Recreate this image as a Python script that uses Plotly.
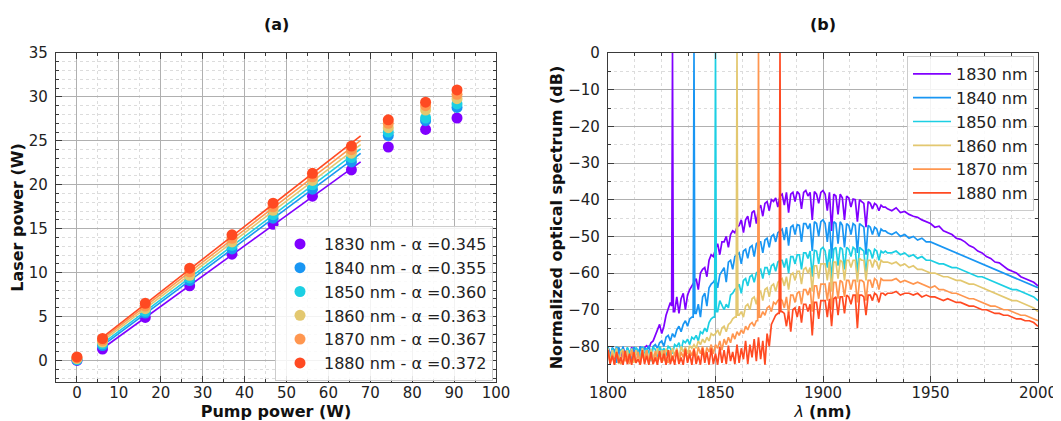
import numpy as np
import plotly.graph_objects as go

# ---------------- Panel (a) data ----------------
pump_power = [0.0, 6.1, 16.3, 26.9, 37.0, 46.8, 56.2, 65.5, 74.3, 83.2, 90.7]
wavelengths = [1830, 1840, 1850, 1860, 1870, 1880]
alphas = [0.345, 0.355, 0.360, 0.363, 0.367, 0.372]
laser_1830 = [0.0, 1.3, 4.9, 8.5, 12.1, 15.5, 18.7, 21.7, 24.3, 26.3, 27.6]
laser_1840 = [0.05, 1.7, 5.4, 9.1, 12.7, 16.2, 19.5, 22.6, 25.6, 27.3, 28.8]
laser_1850 = [0.1, 1.9, 5.6, 9.4, 13.1, 16.6, 20.0, 23.1, 26.0, 27.6, 29.2]
laser_1860 = [0.2, 2.1, 5.9, 9.7, 13.5, 17.1, 20.5, 23.6, 26.5, 28.5, 29.8]
laser_1870 = [0.3, 2.3, 6.2, 10.1, 13.9, 17.5, 20.9, 24.0, 27.0, 29.0, 30.3]
laser_1880 = [0.4, 2.5, 6.5, 10.5, 14.3, 17.9, 21.3, 24.4, 27.4, 29.4, 30.8]
fit_first_index = 1   # first pump point used in the linear fit
fit_last_index = 7    # last pump point used in the linear fit
fit_end_pump = 67.7   # fit line drawn up to this pump power (W)

colors = ["#8000ff", "#1996f3", "#1ccfe3", "#e3c870", "#ff964f", "#ff4a22"]

# ---------------- Panel (b) data ----------------
# wavelength grid (nm): 1 nm steps up to 1930, 2 nm steps after
lam = list(range(1800, 1931)) + list(range(1932, 2001, 2))

spec_1830 = [
    -80.3, -82.5, -80.8, -84.0, -80.2, -81.5, -83.5, -80.4, -82.0, -80.6,
    -83.8, -80.2, -81.8, -80.5, -82.5, -80.0, -81.2, -80.3, -79.8, -80.5,
    -79.0, -78.5, -77.0, -75.5, -74.0, -76.5, -74.5, -71.5, -70.0, -68.0,
    0.0, -70.5, -66.5, -71.0, -67.0, -65.5, -70.0, -66.0, -64.5, -63.5,
    -62.5, -61.5, -64.5, -60.0, -59.0, -58.5, -61.0, -56.5, -55.0, -55.5,
    -53.5, -52.0, -55.0, -51.5, -51.5, -50.0, -53.0, -49.5, -48.5, -49.0,
    -47.5, -47.0, -45.5, -49.0, -45.5, -44.5, -47.5, -43.5, -43.0, -46.5,
    -42.5, -41.5, -44.5, -41.0, -40.5, -43.0, -40.0, -40.5, -39.5, -42.0,
    -39.0, -38.5, -41.5, -38.0, -43.5, -38.5, -38.0, -40.5, -37.8, -38.5,
    -42.5, -38.0, -37.5, -39.0, -38.0, -45.5, -37.8, -38.5, -41.0, -38.0,
    -37.5, -38.5, -43.0, -38.0, -48.5, -38.5, -39.0, -44.0, -38.5, -39.5,
    -45.5, -39.0, -39.5, -42.0, -39.8, -40.0, -46.0, -40.0, -40.5, -41.0,
    -47.5, -40.5, -41.0, -42.5, -41.0, -41.5, -43.0, -41.5, -42.0, -42.0,
    -42.5,
    -43.0, -42.2, -43.5, -43.2, -44.0, -44.5, -44.8, -45.5, -46.0, -46.5,
    -47.5, -47.2, -48.5, -49.0, -49.5, -50.5, -50.8, -51.5, -52.5, -53.0,
    -54.0, -54.5, -55.5, -56.0, -57.0, -57.2, -58.0, -59.0, -59.5, -60.0,
    -61.0, -61.5, -62.0, -62.5, -63.5]
spec_1840 = [
    -80.0, -83.5, -80.3, -81.0, -84.5, -80.2, -82.0, -80.0, -83.0, -80.5,
    -81.5, -84.0, -80.2, -80.8, -83.0, -80.0, -82.5, -80.3, -81.0, -79.8,
    -82.0, -80.0, -79.5, -80.5, -79.0, -78.5, -80.0, -77.5, -77.0, -78.5,
    -76.5, -77.5, -75.5, -74.5, -76.0, -74.0, -73.0, -74.5, -72.5, -72.0,
    0.0, -71.0, -68.5, -72.0, -66.5, -65.5, -69.0, -64.0, -63.0, -62.5,
    -61.5, -64.0, -60.5, -59.5, -58.5, -62.5, -57.0, -56.5, -59.0, -55.5,
    -55.0, -54.5, -57.5, -54.0, -53.5, -56.0, -53.0, -52.5, -55.5, -52.0,
    -51.5, -51.5, -54.5, -51.0, -50.5, -53.0, -50.0, -49.5, -51.5, -49.0,
    -48.5, -48.0, -51.0, -47.5, -52.5, -47.5, -47.0, -49.5, -46.8, -47.0,
    -51.5, -46.5, -46.5, -48.0, -46.5, -54.0, -46.0, -46.5, -50.0, -46.0,
    -45.5, -46.5, -51.5, -46.0, -56.0, -46.0, -46.5, -52.0, -46.0, -47.0,
    -53.0, -46.5, -47.0, -49.5, -46.5, -47.0, -54.5, -46.5, -47.0, -47.5,
    -55.0, -47.0, -47.5, -49.5, -47.5, -48.0, -50.0, -48.0, -48.5, -48.5,
    -49.0,
    -49.5, -48.8, -50.0, -49.5, -50.5, -50.0, -51.0, -50.5, -51.5, -51.5,
    -52.0, -52.5, -53.0, -53.5, -54.0, -54.5, -55.0, -55.5, -56.0, -56.5,
    -57.0, -57.5, -58.0, -58.5, -59.0, -59.5, -60.0, -60.5, -61.0, -61.5,
    -62.0, -62.5, -63.0, -63.5, -64.0]
spec_1850 = [
    -80.2, -84.0, -80.5, -82.5, -80.0, -84.5, -80.8, -81.5, -83.5, -80.2,
    -82.0, -80.5, -84.0, -80.3, -81.0, -83.0, -80.0, -82.5, -80.6, -81.5,
    -84.0, -80.2, -80.8, -83.0, -80.0, -81.5, -80.5, -82.5, -80.0, -80.5,
    -82.0, -79.5, -80.0, -79.0, -81.0, -78.5, -79.0, -78.0, -79.5, -77.5,
    -78.0, -77.0, -78.5, -76.0, -76.5, -75.0, -76.0, -73.5, -72.5, -72.0,
    0.0, -70.5, -67.5, -69.0, -70.0, -68.5, -69.5, -66.0, -65.5, -64.5,
    -64.0, -63.0, -65.5, -62.0, -61.5, -63.5, -61.0, -60.5, -62.5, -60.0,
    -59.5, -59.0, -61.5, -58.5, -58.5, -60.5, -58.0, -57.5, -59.5, -57.0,
    -56.5, -56.5, -58.5, -56.0, -60.0, -55.5, -55.5, -57.5, -55.0, -55.0,
    -59.0, -54.5, -54.5, -56.0, -54.0, -61.0, -53.8, -54.0, -57.5, -53.5,
    -53.0, -54.0, -58.5, -53.5, -62.0, -53.5, -53.0, -58.0, -53.0, -53.5,
    -59.0, -53.0, -53.5, -55.5, -53.0, -53.5, -60.0, -53.0, -53.5, -54.0,
    -60.5, -53.5, -54.0, -56.0, -53.5, -54.0, -56.5, -54.0, -54.5, -54.0,
    -54.5,
    -54.5, -54.0, -55.0, -54.5, -55.5, -55.0, -56.0, -55.5, -56.5, -56.5,
    -57.0, -57.5, -57.5, -58.0, -58.5, -58.5, -59.0, -59.5, -60.0, -60.5,
    -61.0, -61.0, -61.5, -62.0, -62.5, -63.0, -63.5, -64.0, -64.5, -64.5,
    -65.0, -65.5, -66.0, -66.5, -67.5]
spec_1860 = [
    -80.5, -84.5, -81.0, -83.0, -80.5, -84.8, -81.5, -80.8, -84.0, -81.0,
    -83.5, -80.6, -84.5, -81.0, -82.5, -84.0, -80.5, -83.0, -81.0, -84.5,
    -80.8, -82.5, -84.0, -80.5, -83.5, -81.0, -84.0, -80.6, -82.0, -83.5,
    -80.4, -82.5, -80.5, -83.0, -80.0, -81.5, -80.2, -82.0, -79.8, -80.5,
    -79.5, -80.5, -78.5, -79.5, -78.0, -79.0, -77.5, -78.5, -76.5, -77.0,
    -76.5, -75.5, -77.0, -75.0, -74.5, -76.0, -74.0, -73.5, -72.5, -72.0,
    0.0, -71.5, -70.5, -72.0, -69.0, -68.5, -70.0, -67.0, -66.5, -68.5,
    -65.5, -65.0, -67.5, -64.5, -64.0, -66.5, -63.5, -63.0, -65.0, -62.5,
    -62.0, -61.5, -63.5, -61.0, -64.5, -60.5, -60.0, -62.0, -59.5, -59.5,
    -63.0, -59.0, -58.5, -60.0, -58.5, -65.0, -58.0, -58.0, -61.5, -57.5,
    -57.5, -57.5, -62.0, -57.0, -65.0, -57.0, -57.0, -61.5, -56.5, -57.0,
    -62.0, -56.5, -56.5, -58.5, -56.5, -56.5, -62.5, -56.0, -56.5, -56.5,
    -62.0, -56.5, -56.5, -58.5, -56.5, -57.0, -59.0, -56.5, -57.0, -57.0,
    -57.0,
    -57.5, -57.0, -58.0, -57.5, -58.5, -58.0, -59.0, -59.0, -59.5, -60.0,
    -60.0, -60.5, -61.0, -61.0, -61.5, -62.0, -62.0, -62.5, -63.0, -63.0,
    -63.5, -64.0, -64.5, -65.0, -65.5, -66.0, -66.5, -67.0, -67.5, -67.5,
    -68.0, -68.5, -69.0, -69.5, -70.5]
spec_1870 = [
    -81.0, -84.5, -82.0, -84.8, -81.5, -83.5, -84.8, -81.2, -84.0, -82.5,
    -84.8, -81.0, -83.5, -84.5, -81.5, -84.8, -82.0, -84.0, -81.0, -84.5,
    -82.5, -84.8, -81.2, -84.0, -82.0, -84.5, -81.0, -83.5, -84.5, -81.0,
    -84.0, -82.0, -80.8, -84.5, -81.5, -83.0, -80.5, -84.0, -81.0, -82.5,
    -80.5, -83.5, -80.2, -82.0, -80.0, -83.0, -80.3, -81.5, -79.5, -82.0,
    -79.5, -80.5, -78.5, -81.0, -78.0, -79.5, -77.5, -79.0, -76.5, -78.0,
    -76.0, -77.0, -75.5, -76.5, -74.5, -75.5, -74.0, -73.5, -74.5, -73.0,
    0.0, -72.0, -70.5, -71.5, -69.5, -69.0, -70.5, -68.0, -68.5, -67.5,
    -67.0, -67.5, -69.5, -66.5, -71.0, -66.0, -66.0, -68.0, -65.5, -65.0,
    -68.5, -64.5, -64.5, -66.0, -64.0, -70.5, -63.5, -63.5, -67.0, -63.0,
    -63.0, -63.0, -67.5, -62.5, -70.0, -62.5, -62.5, -67.0, -62.0, -62.5,
    -66.5, -62.0, -62.0, -64.5, -62.0, -62.0, -68.0, -62.0, -62.0, -62.5,
    -67.5, -62.0, -62.0, -64.0, -61.5, -62.0, -64.5, -61.5, -62.0, -62.0,
    -62.0,
    -62.0, -61.5, -62.5, -62.0, -62.5, -63.0, -62.5, -63.0, -63.5, -64.0,
    -63.5, -64.5, -64.5, -65.0, -65.5, -65.5, -66.0, -66.5, -67.0, -67.0,
    -67.5, -68.0, -68.5, -69.0, -69.0, -69.5, -70.0, -70.0, -70.5, -71.0,
    -71.5, -71.5, -72.0, -72.5, -73.0]
spec_1880 = [
    -81.0, -84.8, -82.5, -85.0, -81.5, -84.5, -83.0, -85.0, -81.2, -84.8,
    -82.0, -85.0, -81.5, -84.5, -83.5, -85.0, -81.0, -84.8, -82.5, -85.0,
    -81.5, -84.8, -83.0, -85.0, -81.2, -84.5, -82.0, -85.0, -81.0, -84.8,
    -82.5, -85.0, -81.0, -84.8, -83.0, -85.0, -80.8, -84.5, -82.0, -85.0,
    -80.8, -84.8, -82.5, -85.0, -80.5, -84.5, -81.5, -85.0, -80.5, -84.8,
    -82.0, -85.0, -80.2, -84.5, -81.0, -84.8, -79.8, -84.0, -81.5, -84.8,
    -79.5, -84.5, -80.5, -83.5, -78.5, -84.8, -79.5, -83.0, -78.0, -84.0,
    -77.5, -83.5, -78.5, -85.0, -76.5, -80.0, -74.0, -72.5, -71.5, -71.0,
    0.0, -70.5, -71.0, -74.5, -70.5, -76.0, -70.0, -69.5, -72.0, -69.0,
    -73.5, -68.5, -68.5, -70.5, -68.5, -77.0, -68.0, -68.0, -72.5, -67.5,
    -67.5, -67.5, -72.0, -67.0, -74.5, -67.0, -66.5, -71.5, -66.5, -66.5,
    -71.0, -66.0, -66.5, -68.5, -66.0, -66.0, -75.0, -66.0, -66.0, -66.5,
    -71.5, -66.0, -66.0, -67.5, -65.5, -66.0, -68.0, -65.5, -65.5, -66.0,
    -65.5,
    -65.5, -65.0, -66.0, -65.5, -65.5, -66.0, -65.5, -66.5, -66.0, -66.5,
    -66.5, -67.0, -67.5, -67.0, -67.5, -68.0, -68.0, -68.5, -69.0, -69.0,
    -69.5, -70.0, -70.0, -70.5, -71.0, -71.0, -71.5, -71.5, -72.0, -72.5,
    -72.5, -73.0, -73.0, -73.5, -74.5]
# narrow laser line: shoulder points just either side of each emission peak
shoulder_wl_offset = 0.4
shoulder_left_db = [-69.0, -72.0, -72.0, -72.0, -73.0, -71.0]
shoulder_right_db = [-70.5, -71.0, -70.5, -71.5, -72.0, -70.5]

laser_series = [laser_1830, laser_1840, laser_1850, laser_1860, laser_1870, laser_1880]
spectra = [spec_1830, spec_1840, spec_1850, spec_1860, spec_1870, spec_1880]
for s in spectra:
    assert len(s) == len(lam), len(s)

FONT = "DejaVu Sans"
OFF = 8                      # page body margin of the html page
W, H = 1061 - OFF, 421 - OFF

def fx(p):  # reference pixel x -> paper fraction
    return (p - OFF) / W

def fy(p):  # reference pixel y -> paper fraction
    return 1 - (p - OFF) / H

fig = go.Figure()

# ----- panel (a) -----
pxa = np.array(pump_power)
for i, (wl, a, ys, c) in enumerate(zip(wavelengths, alphas, laser_series, colors)):
    ys = np.array(ys)
    fig.add_trace(go.Scatter(
        x=pxa, y=ys, mode="markers", name=f"{wl} nm - α ={a:.3f}",
        marker=dict(color=c, size=11, line=dict(width=0)),
        legend="legend", xaxis="x", yaxis="y"))
    sel = slice(fit_first_index, fit_last_index + 1)
    b = float(np.mean(ys[sel] - a * pxa[sel]))
    lx = np.array([pxa[fit_first_index], fit_end_pump])
    fig.add_trace(go.Scatter(
        x=lx, y=a * lx + b, mode="lines", showlegend=False,
        line=dict(color=c, width=1.6), xaxis="x", yaxis="y"))

# ----- panel (b) -----
for i, (wl, sp, c) in enumerate(zip(wavelengths, spectra, colors)):
    xs = list(lam) + [wl - shoulder_wl_offset, wl + shoulder_wl_offset]
    ys = list(sp) + [shoulder_left_db[i], shoulder_right_db[i]]
    order = np.argsort(xs, kind="stable")
    fig.add_trace(go.Scatter(
        x=np.array(xs)[order], y=np.array(ys)[order], mode="lines",
        name=f"{wl} nm", line=dict(color=c, width=1.7),
        legend="legend2", xaxis="x2", yaxis="y2"))

tickfont = dict(family=FONT, size=15, color="#222222")
titlefont = dict(family=FONT, size=16, color="#111111")
axis_common = dict(
    showline=True, linecolor="#3a3a3a", linewidth=1.2, mirror="ticks",
    ticks="inside", ticklen=6, tickcolor="#3a3a3a", tickwidth=1,
    showgrid=True, gridcolor="#b0b0b0", gridwidth=1, zeroline=False,
    tickfont=tickfont, automargin=False,
)

def minor(dt):
    return dict(dtick=dt, ticks="inside", ticklen=3, tickcolor="#3a3a3a",
                showgrid=True, gridcolor="#dcdcdc", griddash="dot", gridwidth=1)

ydom = [fy(382), fy(53)]
xa_dom = [fx(56), fx(496)]
xb_dom = [fx(608), fx(1038)]

legend_common = dict(xanchor="left", yanchor="top", itemwidth=38,
                     bgcolor="rgba(255,255,255,0.85)", bordercolor="#cccccc", borderwidth=1,
                     font=dict(family=FONT, size=16, color="#222222"))

fig.update_layout(
    width=W, height=H, margin=dict(l=0, r=0, t=0, b=0),
    paper_bgcolor="white", plot_bgcolor="white",
    font=dict(family=FONT, size=15, color="#222222"),
    xaxis=dict(domain=xa_dom, anchor="y", range=[-5, 100], tick0=0, dtick=10,
               minor=minor(5), ticklabelstandoff=-3,
               title=dict(text="<b>Pump power (W)</b>", font=titlefont, standoff=3),
               **axis_common),
    yaxis=dict(domain=ydom, anchor="x", range=[-2.45, 35], tick0=0, dtick=5,
               minor=minor(1), ticklabelstandoff=4,
               title=dict(text="<b>Laser power (W)</b>", font=titlefont, standoff=5),
               **axis_common),
    xaxis2=dict(domain=xb_dom, anchor="y2", range=[1800, 2000], tick0=1800, dtick=50,
                minor=minor(12.5), ticklabelstandoff=-3,
                title=dict(text="<i>λ</i> <b>(nm)</b>", font=titlefont, standoff=3),
                **axis_common),
    yaxis2=dict(domain=ydom, anchor="x2", range=[-89.7, 0], tick0=0, dtick=10,
                minor=minor(5), ticklabelstandoff=4,
                title=dict(text="<b>Normalized optical spectrum (dB)</b>", font=titlefont, standoff=1),
                **axis_common),
    legend=dict(x=fx(275), y=fy(226), **legend_common),
    legend2=dict(x=fx(907), y=fy(56), **legend_common),
    showlegend=True,
    annotations=[
        dict(text="<b>(a)</b>", x=(xa_dom[0] + xa_dom[1]) / 2, y=fy(25), xref="paper", yref="paper",
             showarrow=False, font=dict(family=FONT, size=16, color="#111"), xanchor="center", yanchor="middle"),
        dict(text="<b>(b)</b>", x=(xb_dom[0] + xb_dom[1]) / 2, y=fy(25), xref="paper", yref="paper",
             showarrow=False, font=dict(family=FONT, size=16, color="#111"), xanchor="center", yanchor="middle"),
    ],
)

fig.write_html("out.html")
